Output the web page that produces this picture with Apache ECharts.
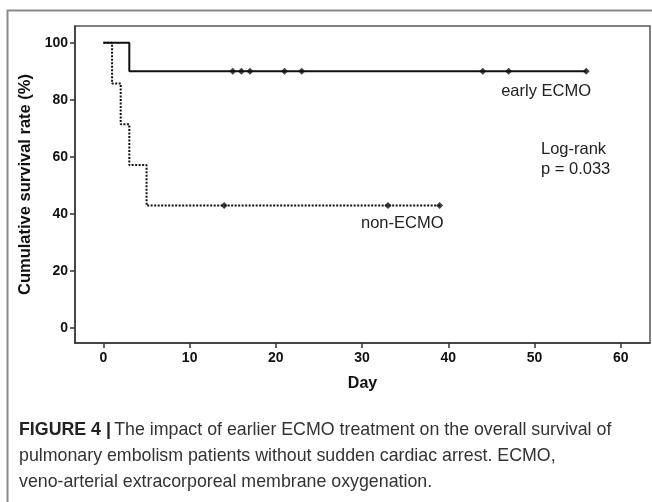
<!DOCTYPE html>
<html>
<head>
<meta charset="utf-8">
<script src="https://cdn.jsdelivr.net/npm/echarts@6/dist/echarts.min.js"></script>
<style>
html,body{margin:0;padding:0;background:#fff;}
#chart{width:652px;height:502px;}
</style>
</head>
<body>
<div id="chart"></div>
<script>
// ---- data ----
const xTicks = [0, 10, 20, 30, 40, 50, 60];
const yTicks = [0, 20, 40, 60, 80, 100];
const earlyDays = [0, 3, 56];
const earlySurv = [100, 90, 90];
const earlyCensorDays = [15, 16, 17, 21, 23, 44, 47, 56];
const earlyCensorSurv = [90, 90, 90, 90, 90, 90, 90, 90];
const nonDays = [0, 1, 2, 3, 5, 39];
const nonSurv = [100, 85.7, 71.4, 57.1, 42.9, 42.9];
const nonCensorDays = [14, 33, 39];
const nonCensorSurv = [42.9, 42.9, 42.9];
const seriesNames = ['early ECMO', 'non-ECMO'];

const zip = (a, b) => a.map((v, i) => [v, b[i]]);
const F = 'Liberation Sans, Arial, sans-serif';

const chart = echarts.init(document.getElementById('chart'), null, {renderer: 'canvas'});
chart.setOption({
  animation: false,
  backgroundColor: '#fff',
  grid: {left: 75, top: 26, right: 2, bottom: 159, show: true, borderColor: '#555', borderWidth: 1.5, backgroundColor: 'transparent'},
  xAxis: {
    type: 'value', min: -3.3, max: 63.4,
    name: 'Day', nameLocation: 'middle', nameGap: 33,
    nameTextStyle: {fontFamily: F, fontWeight: 'bold', fontSize: 16, color: '#111'},
    axisLine: {show: true, onZero: false, lineStyle: {color: '#333', width: 1.5}},
    axisTick: {show: true, inside: false, length: 5, lineStyle: {color: '#333', width: 1.5}, customValues: xTicks},
    axisLabel: {margin: 8, fontFamily: F, fontWeight: 'bold', fontSize: 14, color: '#111', customValues: xTicks},
    splitLine: {show: false}
  },
  yAxis: {
    type: 'value', min: -5.3, max: 105.9,
    name: 'Cumulative survival rate (%)', nameLocation: 'middle', nameGap: 40,
    nameTextStyle: {fontFamily: F, fontWeight: 'bold', fontSize: 16.5, color: '#111'},
    axisLine: {show: true, onZero: false, lineStyle: {color: '#333', width: 1.5}},
    axisTick: {show: true, inside: false, length: 5, lineStyle: {color: '#333', width: 1.5}, customValues: yTicks},
    axisLabel: {margin: 7, fontFamily: F, fontWeight: 'bold', fontSize: 14, color: '#111', customValues: yTicks},
    splitLine: {show: false}
  },
  series: [
    {
      name: seriesNames[1], type: 'line', step: 'end', showSymbol: false, z: 2,
      data: zip(nonDays, nonSurv),
      lineStyle: {color: '#111', width: 2, type: [2, 1.5]}
    },
    {
      name: seriesNames[1] + ' censored', type: 'scatter', symbol: 'diamond', symbolSize: 7, z: 3,
      data: zip(nonCensorDays, nonCensorSurv), itemStyle: {color: '#111'}
    },
    {
      name: seriesNames[0], type: 'line', step: 'end', showSymbol: false, z: 4,
      data: zip(earlyDays, earlySurv),
      lineStyle: {color: '#111', width: 2}
    },
    {
      name: seriesNames[0] + ' censored', type: 'scatter', symbol: 'diamond', symbolSize: 7, z: 5,
      data: zip(earlyCensorDays, earlyCensorSurv), itemStyle: {color: '#111'}
    }
  ],
  graphic: [
    {type: 'rect', z: -1, shape: {x: 7.5, y: 10.5, width: 700, height: 600}, style: {fill: 'none', stroke: '#8a8a8a', lineWidth: 2}},
    {type: 'text', x: 591, y: 91, style: {text: seriesNames[0], font: '16.5px ' + F, fill: '#222', align: 'right', verticalAlign: 'middle'}},
    {type: 'text', x: 361, y: 223, style: {text: seriesNames[1], font: '16.5px ' + F, fill: '#222', align: 'left', verticalAlign: 'middle'}},
    {type: 'text', x: 541, y: 149, style: {text: 'Log-rank', font: '16.5px ' + F, fill: '#222', align: 'left', verticalAlign: 'middle'}},
    {type: 'text', x: 541, y: 169, style: {text: 'p = 0.033', font: '16.5px ' + F, fill: '#222', align: 'left', verticalAlign: 'middle'}},
    {type: 'text', x: 19, y: 430, style: {
      rich: {b: {font: 'bold 17.8px ' + F, fill: '#222'}, n: {font: '17.8px ' + F, fill: '#333'}},
      text: '{b|FIGURE 4 |} {n|The impact of earlier ECMO treatment on the overall survival of}',
      verticalAlign: 'middle'}},
    {type: 'text', x: 19, y: 456, style: {text: 'pulmonary embolism patients without sudden cardiac arrest. ECMO,', font: '17.8px ' + F, fill: '#333', verticalAlign: 'middle'}},
    {type: 'text', x: 19, y: 482, style: {text: 'veno-arterial extracorporeal membrane oxygenation.', font: '17.8px ' + F, fill: '#333', verticalAlign: 'middle'}}
  ]
});
</script>
</body>
</html>
